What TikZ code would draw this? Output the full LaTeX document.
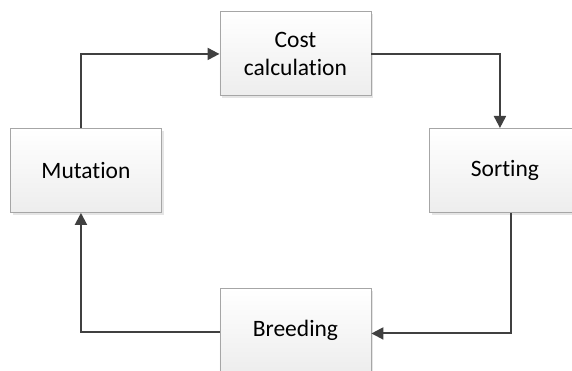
\documentclass[tikz,border=0pt]{standalone}
\usepackage{fontspec}
\setmainfont{Carlito}[Ligatures=NoCommon]
\usetikzlibrary{arrows.meta,shadows}
\definecolor{linegray}{HTML}{404040}
\definecolor{boxedge}{HTML}{A6A6A6}
\tikzset{
  stagebox/.style={draw=boxedge, line width=0.9pt, top color=white, bottom color=black!7,
    minimum width=151pt, minimum height=84pt, inner sep=0pt, anchor=north west,
    align=center, font=\fontsize{23.5}{28.5}\selectfont,
    drop shadow={shadow xshift=2.5pt, shadow yshift=-2.5pt, fill=black!10, opacity=1}},
  flow/.style={draw=linegray, line width=2pt, -{Triangle[length=12pt,width=12pt]}}
}
\begin{document}
\begin{tikzpicture}[x=1pt,y=-1pt]
\useasboundingbox (0,0) rectangle (572,371);
\node[stagebox] (cost) at (219.5,11.5) {Cost\\calculation};
\node[stagebox] (mut) at (10,128) {Mutation};
\node[stagebox] (sort) at (429,128) {Sorting};
\node[stagebox] (breed) at (219.5,288) {Breeding};
\draw[flow] (cost.east) -| ([xshift=-5pt]sort.north);
\draw[flow] ([xshift=6pt]sort.south) |- ([yshift=-3pt]breed.east);
\draw[flow] ([yshift=-2pt]breed.west) -| ([xshift=-5pt]mut.south);
\draw[flow] ([xshift=-5pt]mut.north) |- (cost.west);
\end{tikzpicture}
\end{document}
